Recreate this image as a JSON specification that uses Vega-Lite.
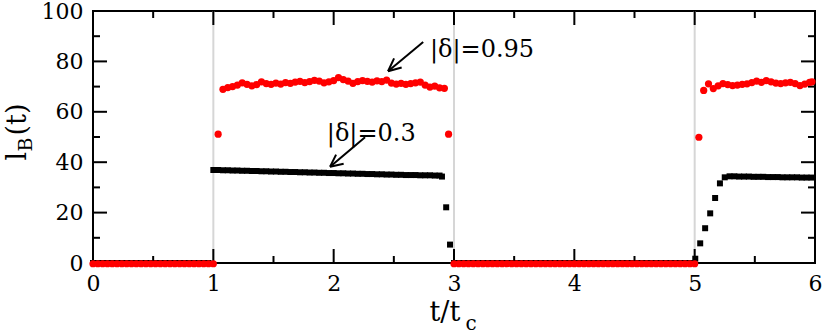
{
"width": 722, "height": 252,
"autosize": "none",
"padding": {"left": 93, "top": 11, "right": 7, "bottom": 70},
"config": {
  "view": {"stroke": "black", "strokeWidth": 2},
  "font": "DejaVu Serif",
  "axis": {"labelFont": "DejaVu Serif", "titleFont": "DejaVu Serif", "labelColor": "black", "titleColor": "black", "labelFontSize": 22, "titleFontWeight": "normal", "domain": false, "grid": false, "ticks": false, "labelFlush": false, "labelOverlap": false}
},
"datasets": {
  "vlines": [{"t":1},{"t":3},{"t":5}],
  "xticks": [{"t":0,"k":"major"},{"t":0.5,"k":"minor"},{"t":1,"k":"major"},{"t":1.5,"k":"minor"},{"t":2,"k":"major"},{"t":2.5,"k":"minor"},{"t":3,"k":"major"},{"t":3.5,"k":"minor"},{"t":4,"k":"major"},{"t":4.5,"k":"minor"},{"t":5,"k":"major"},{"t":5.5,"k":"minor"},{"t":6,"k":"major"}],
  "yticks": [{"v":0,"k":"major"},{"v":10,"k":"minor"},{"v":20,"k":"major"},{"v":30,"k":"minor"},{"v":40,"k":"major"},{"v":50,"k":"minor"},{"v":60,"k":"major"},{"v":70,"k":"minor"},{"v":80,"k":"major"},{"v":90,"k":"minor"},{"v":100,"k":"major"}],
  "black": [
    {"t":0,"v":0},{"t":0.04,"v":0},{"t":0.08,"v":0},{"t":0.12,"v":0},{"t":0.16,"v":0},{"t":0.2,"v":0},{"t":0.24,"v":0},{"t":0.28,"v":0},{"t":0.32,"v":0},{"t":0.36,"v":0},{"t":0.4,"v":0},{"t":0.44,"v":0},{"t":0.48,"v":0},{"t":0.52,"v":0},{"t":0.56,"v":0},{"t":0.6,"v":0},{"t":0.64,"v":0},{"t":0.68,"v":0},{"t":0.72,"v":0},{"t":0.76,"v":0},{"t":0.8,"v":0},{"t":0.84,"v":0},{"t":0.88,"v":0},{"t":0.92,"v":0},{"t":0.96,"v":0},
    {"t":1,"v":36.9},{"t":1.04,"v":36.9},{"t":1.08,"v":36.8},{"t":1.12,"v":36.8},{"t":1.16,"v":36.7},{"t":1.2,"v":36.7},{"t":1.24,"v":36.6},{"t":1.28,"v":36.6},{"t":1.32,"v":36.5},{"t":1.36,"v":36.5},{"t":1.4,"v":36.4},{"t":1.44,"v":36.4},{"t":1.48,"v":36.3},{"t":1.52,"v":36.3},{"t":1.56,"v":36.2},{"t":1.6,"v":36.2},{"t":1.64,"v":36.1},{"t":1.68,"v":36.1},{"t":1.72,"v":36.0},{"t":1.76,"v":36.0},{"t":1.8,"v":35.9},{"t":1.84,"v":35.9},{"t":1.88,"v":35.8},{"t":1.92,"v":35.8},{"t":1.96,"v":35.7},{"t":2,"v":35.7},{"t":2.04,"v":35.6},{"t":2.08,"v":35.6},{"t":2.12,"v":35.5},{"t":2.16,"v":35.5},{"t":2.2,"v":35.4},{"t":2.24,"v":35.4},{"t":2.28,"v":35.3},{"t":2.32,"v":35.3},{"t":2.36,"v":35.2},{"t":2.4,"v":35.2},{"t":2.44,"v":35.1},{"t":2.48,"v":35.1},{"t":2.52,"v":35.0},{"t":2.56,"v":35.0},{"t":2.6,"v":34.9},{"t":2.64,"v":34.9},{"t":2.68,"v":34.9},{"t":2.72,"v":34.8},{"t":2.76,"v":34.8},{"t":2.8,"v":34.8},{"t":2.84,"v":34.7},{"t":2.88,"v":34.7},{"t":2.9,"v":34.3},{"t":2.935,"v":22.1},{"t":2.967,"v":7.3},
    {"t":3,"v":0},{"t":3.04,"v":0},{"t":3.08,"v":0},{"t":3.12,"v":0},{"t":3.16,"v":0},{"t":3.2,"v":0},{"t":3.24,"v":0},{"t":3.28,"v":0},{"t":3.32,"v":0},{"t":3.36,"v":0},{"t":3.4,"v":0},{"t":3.44,"v":0},{"t":3.48,"v":0},{"t":3.52,"v":0},{"t":3.56,"v":0},{"t":3.6,"v":0},{"t":3.64,"v":0},{"t":3.68,"v":0},{"t":3.72,"v":0},{"t":3.76,"v":0},{"t":3.8,"v":0},{"t":3.84,"v":0},{"t":3.88,"v":0},{"t":3.92,"v":0},{"t":3.96,"v":0},{"t":4,"v":0},{"t":4.04,"v":0},{"t":4.08,"v":0},{"t":4.12,"v":0},{"t":4.16,"v":0},{"t":4.2,"v":0},{"t":4.24,"v":0},{"t":4.28,"v":0},{"t":4.32,"v":0},{"t":4.36,"v":0},{"t":4.4,"v":0},{"t":4.44,"v":0},{"t":4.48,"v":0},{"t":4.52,"v":0},{"t":4.56,"v":0},{"t":4.6,"v":0},{"t":4.64,"v":0},{"t":4.68,"v":0},{"t":4.72,"v":0},{"t":4.76,"v":0},{"t":4.8,"v":0},{"t":4.84,"v":0},{"t":4.88,"v":0},{"t":4.92,"v":0},{"t":4.96,"v":0},
    {"t":5.005,"v":1.7},{"t":5.046,"v":7.8},{"t":5.087,"v":13.8},{"t":5.129,"v":19.7},{"t":5.17,"v":25.8},{"t":5.21,"v":31.6},{"t":5.25,"v":34.0},
    {"t":5.29,"v":34.4},{"t":5.33,"v":34.4},{"t":5.37,"v":34.3},{"t":5.41,"v":34.3},{"t":5.45,"v":34.3},{"t":5.49,"v":34.2},{"t":5.53,"v":34.2},{"t":5.57,"v":34.2},{"t":5.61,"v":34.1},{"t":5.65,"v":34.1},{"t":5.69,"v":34.1},{"t":5.73,"v":34.0},{"t":5.77,"v":34.0},{"t":5.81,"v":34.0},{"t":5.85,"v":34.0},{"t":5.89,"v":33.9},{"t":5.93,"v":33.9},{"t":5.97,"v":33.9}
  ],
  "red": [
    {"t":0,"v":-0.3},{"t":0.04,"v":-0.3},{"t":0.08,"v":-0.3},{"t":0.12,"v":-0.3},{"t":0.16,"v":-0.3},{"t":0.2,"v":-0.3},{"t":0.24,"v":-0.3},{"t":0.28,"v":-0.3},{"t":0.32,"v":-0.3},{"t":0.36,"v":-0.3},{"t":0.4,"v":-0.3},{"t":0.44,"v":-0.3},{"t":0.48,"v":-0.3},{"t":0.52,"v":-0.3},{"t":0.56,"v":-0.3},{"t":0.6,"v":-0.3},{"t":0.64,"v":-0.3},{"t":0.68,"v":-0.3},{"t":0.72,"v":-0.3},{"t":0.76,"v":-0.3},{"t":0.8,"v":-0.3},{"t":0.84,"v":-0.3},{"t":0.88,"v":-0.3},{"t":0.92,"v":-0.3},{"t":0.96,"v":-0.3},{"t":1,"v":-0.3},
    {"t":1.04,"v":51.1},
    {"t":1.08,"v":68.9},{"t":1.12,"v":69.6},{"t":1.16,"v":70.0},{"t":1.2,"v":70.6},{"t":1.24,"v":71.5},{"t":1.28,"v":70.9},{"t":1.32,"v":70.3},{"t":1.36,"v":70.8},{"t":1.4,"v":71.9},{"t":1.44,"v":71.2},{"t":1.48,"v":70.9},{"t":1.52,"v":71.4},{"t":1.56,"v":71.0},{"t":1.6,"v":71.6},{"t":1.64,"v":71.3},{"t":1.68,"v":71.8},{"t":1.72,"v":72.1},{"t":1.76,"v":71.6},{"t":1.8,"v":72.0},{"t":1.84,"v":72.5},{"t":1.88,"v":72.2},{"t":1.92,"v":71.5},{"t":1.96,"v":71.9},{"t":2,"v":72.4},{"t":2.04,"v":73.6},{"t":2.08,"v":72.8},{"t":2.12,"v":72.2},{"t":2.16,"v":71.3},{"t":2.2,"v":72.0},{"t":2.24,"v":72.4},{"t":2.28,"v":72.1},{"t":2.32,"v":71.8},{"t":2.36,"v":72.3},{"t":2.4,"v":72.0},{"t":2.44,"v":72.6},{"t":2.48,"v":71.4},{"t":2.52,"v":71.0},{"t":2.56,"v":71.3},{"t":2.6,"v":70.9},{"t":2.64,"v":71.2},{"t":2.68,"v":71.5},{"t":2.72,"v":71.8},{"t":2.76,"v":70.6},{"t":2.8,"v":69.8},{"t":2.84,"v":70.2},{"t":2.88,"v":69.5},{"t":2.92,"v":69.3},
    {"t":2.955,"v":51.1},
    {"t":3,"v":-0.3},{"t":3.04,"v":-0.3},{"t":3.08,"v":-0.3},{"t":3.12,"v":-0.3},{"t":3.16,"v":-0.3},{"t":3.2,"v":-0.3},{"t":3.24,"v":-0.3},{"t":3.28,"v":-0.3},{"t":3.32,"v":-0.3},{"t":3.36,"v":-0.3},{"t":3.4,"v":-0.3},{"t":3.44,"v":-0.3},{"t":3.48,"v":-0.3},{"t":3.52,"v":-0.3},{"t":3.56,"v":-0.3},{"t":3.6,"v":-0.3},{"t":3.64,"v":-0.3},{"t":3.68,"v":-0.3},{"t":3.72,"v":-0.3},{"t":3.76,"v":-0.3},{"t":3.8,"v":-0.3},{"t":3.84,"v":-0.3},{"t":3.88,"v":-0.3},{"t":3.92,"v":-0.3},{"t":3.96,"v":-0.3},{"t":4,"v":-0.3},{"t":4.04,"v":-0.3},{"t":4.08,"v":-0.3},{"t":4.12,"v":-0.3},{"t":4.16,"v":-0.3},{"t":4.2,"v":-0.3},{"t":4.24,"v":-0.3},{"t":4.28,"v":-0.3},{"t":4.32,"v":-0.3},{"t":4.36,"v":-0.3},{"t":4.4,"v":-0.3},{"t":4.44,"v":-0.3},{"t":4.48,"v":-0.3},{"t":4.52,"v":-0.3},{"t":4.56,"v":-0.3},{"t":4.6,"v":-0.3},{"t":4.64,"v":-0.3},{"t":4.68,"v":-0.3},{"t":4.72,"v":-0.3},{"t":4.76,"v":-0.3},{"t":4.8,"v":-0.3},{"t":4.84,"v":-0.3},{"t":4.88,"v":-0.3},{"t":4.92,"v":-0.3},{"t":4.96,"v":-0.3},{"t":5,"v":-0.3},
    {"t":5.035,"v":49.9},{"t":5.075,"v":68.5},
    {"t":5.115,"v":71.1},{"t":5.155,"v":69.2},{"t":5.195,"v":70.3},{"t":5.235,"v":71.2},{"t":5.275,"v":70.8},{"t":5.315,"v":70.4},{"t":5.355,"v":70.6},{"t":5.395,"v":70.9},{"t":5.435,"v":71.1},{"t":5.475,"v":71.6},{"t":5.515,"v":72.2},{"t":5.555,"v":71.7},{"t":5.595,"v":72.4},{"t":5.635,"v":71.9},{"t":5.675,"v":71.4},{"t":5.715,"v":71.2},{"t":5.755,"v":71.5},{"t":5.795,"v":71.7},{"t":5.835,"v":71.2},{"t":5.875,"v":70.4},{"t":5.915,"v":71.0},{"t":5.955,"v":71.7},{"t":5.975,"v":71.9}
  ],
  "arrows": [
    {"t":2.744,"v":87.7,"t2":2.452,"v2":76.1},
    {"t":2.452,"v":76.1,"t2":2.565,"v2":77.6},
    {"t":2.452,"v":76.1,"t2":2.502,"v2":81.2},
    {"t":2.261,"v":49.9,"t2":1.97,"v2":38.2},
    {"t":1.97,"v":38.2,"t2":2.083,"v2":39.4},
    {"t":1.97,"v":38.2,"t2":2.02,"v2":43.0}
  ],
  "labels": [
    {"t":2.8,"v":81.6,"label":"|δ|=0.95"},
    {"t":1.943,"v":48.6,"label":"|δ|=0.3"}
  ]
},
"resolve": {"axis": {"x": "independent", "y": "independent"}},
"layer": [
  {
    "data": {"name": "vlines"},
    "mark": {"type": "rule", "color": "#d6d6d6", "strokeWidth": 2},
    "encoding": {
      "x": {"field": "t", "type": "quantitative", "scale": {"domain": [0, 6], "nice": false, "zero": false},
        "axis": {"orient": "bottom", "values": [0,1,2,3,4,5,6], "labelPadding": 10, "title": null}},
      "y": {"datum": 0, "type": "quantitative", "scale": {"domain": [0, 100], "nice": false, "zero": false},
        "axis": {"orient": "left", "labels": false, "title": "B", "titleFontSize": 19, "titleAngle": 270, "titleAlign": "left", "titleBaseline": "alphabetic", "titleX": -62, "titleY": 140}},
      "y2": {"datum": 100}
    }
  },
  {
    "data": {"name": "xticks"},
    "transform": [{"filter": "datum.k == 'major'"}],
    "mark": {"type": "rule", "color": "black", "strokeWidth": 2},
    "encoding": {
      "x": {"field": "t", "type": "quantitative", "scale": {"domain": [0, 6], "nice": false, "zero": false}, "axis": null},
      "y": {"datum": 0, "type": "quantitative", "scale": {"domain": [0, 100], "nice": false, "zero": false}, "axis": null},
      "y2": {"datum": 5.556}
    }
  },
  {
    "data": {"name": "xticks"},
    "transform": [{"filter": "datum.k == 'minor'"}],
    "mark": {"type": "rule", "color": "black", "strokeWidth": 2},
    "encoding": {
      "x": {"field": "t", "type": "quantitative", "scale": {"domain": [0, 6], "nice": false, "zero": false}, "axis": null},
      "y": {"datum": 0, "type": "quantitative", "scale": {"domain": [0, 100], "nice": false, "zero": false}, "axis": null},
      "y2": {"datum": 2.778}
    }
  },
  {
    "data": {"name": "xticks"},
    "transform": [{"filter": "datum.k == 'major'"}],
    "mark": {"type": "rule", "color": "black", "strokeWidth": 2},
    "encoding": {
      "x": {"field": "t", "type": "quantitative", "scale": {"domain": [0, 6], "nice": false, "zero": false}, "axis": null},
      "y": {"datum": 100, "type": "quantitative", "scale": {"domain": [0, 100], "nice": false, "zero": false}, "axis": null},
      "y2": {"datum": 94.444}
    }
  },
  {
    "data": {"name": "xticks"},
    "transform": [{"filter": "datum.k == 'minor'"}],
    "mark": {"type": "rule", "color": "black", "strokeWidth": 2},
    "encoding": {
      "x": {"field": "t", "type": "quantitative", "scale": {"domain": [0, 6], "nice": false, "zero": false}, "axis": null},
      "y": {"datum": 100, "type": "quantitative", "scale": {"domain": [0, 100], "nice": false, "zero": false}, "axis": null},
      "y2": {"datum": 97.222}
    }
  },
  {
    "data": {"name": "yticks"},
    "transform": [{"filter": "datum.k == 'major'"}],
    "mark": {"type": "rule", "color": "black", "strokeWidth": 2},
    "encoding": {
      "y": {"field": "v", "type": "quantitative", "scale": {"domain": [0, 100], "nice": false, "zero": false}, "axis": null},
      "x": {"datum": 0, "type": "quantitative", "scale": {"domain": [0, 6], "nice": false, "zero": false}, "axis": null},
      "x2": {"datum": 0.1163}
    }
  },
  {
    "data": {"name": "yticks"},
    "transform": [{"filter": "datum.k == 'minor'"}],
    "mark": {"type": "rule", "color": "black", "strokeWidth": 2},
    "encoding": {
      "y": {"field": "v", "type": "quantitative", "scale": {"domain": [0, 100], "nice": false, "zero": false}, "axis": null},
      "x": {"datum": 0, "type": "quantitative", "scale": {"domain": [0, 6], "nice": false, "zero": false}, "axis": null},
      "x2": {"datum": 0.0582}
    }
  },
  {
    "data": {"name": "yticks"},
    "transform": [{"filter": "datum.k == 'major'"}],
    "mark": {"type": "rule", "color": "black", "strokeWidth": 2},
    "encoding": {
      "y": {"field": "v", "type": "quantitative", "scale": {"domain": [0, 100], "nice": false, "zero": false}, "axis": null},
      "x": {"datum": 6, "type": "quantitative", "scale": {"domain": [0, 6], "nice": false, "zero": false}, "axis": null},
      "x2": {"datum": 5.8837}
    }
  },
  {
    "data": {"name": "yticks"},
    "transform": [{"filter": "datum.k == 'minor'"}],
    "mark": {"type": "rule", "color": "black", "strokeWidth": 2},
    "encoding": {
      "y": {"field": "v", "type": "quantitative", "scale": {"domain": [0, 100], "nice": false, "zero": false}, "axis": null},
      "x": {"datum": 6, "type": "quantitative", "scale": {"domain": [0, 6], "nice": false, "zero": false}, "axis": null},
      "x2": {"datum": 5.9418}
    }
  },
  {
    "data": {"name": "black"},
    "mark": {"type": "square", "size": 36, "color": "black", "opacity": 1},
    "encoding": {
      "x": {"field": "t", "type": "quantitative", "scale": {"domain": [0, 6], "nice": false, "zero": false}, "axis": null},
      "y": {"field": "v", "type": "quantitative", "scale": {"domain": [0, 100], "nice": false, "zero": false},
        "axis": {"orient": "left", "values": [0,20,40,60,80,100], "labelPadding": 10, "title": null}}
    }
  },
  {
    "data": {"name": "red"},
    "mark": {"type": "circle", "size": 52, "color": "#ff0000", "opacity": 1},
    "encoding": {
      "x": {"field": "t", "type": "quantitative", "scale": {"domain": [0, 6], "nice": false, "zero": false}, "axis": null},
      "y": {"field": "v", "type": "quantitative", "scale": {"domain": [0, 100], "nice": false, "zero": false}, "axis": null}
    }
  },
  {
    "data": {"name": "arrows"},
    "mark": {"type": "rule", "color": "black", "strokeWidth": 2},
    "encoding": {
      "x": {"field": "t", "type": "quantitative", "scale": {"domain": [0, 6], "nice": false, "zero": false}, "axis": null},
      "x2": {"field": "t2"},
      "y": {"field": "v", "type": "quantitative", "scale": {"domain": [0, 100], "nice": false, "zero": false}, "axis": null},
      "y2": {"field": "v2"}
    }
  },
  {
    "data": {"name": "labels"},
    "mark": {"type": "text", "align": "left", "baseline": "alphabetic", "font": "DejaVu Serif", "fontSize": 24, "color": "black"},
    "encoding": {
      "x": {"field": "t", "type": "quantitative", "scale": {"domain": [0, 6], "nice": false, "zero": false},
        "axis": {"orient": "bottom", "labels": false, "title": "c", "titleFontSize": 20, "titleAlign": "left", "titleBaseline": "alphabetic", "titleX": 372, "titleY": 66}},
      "y": {"field": "v", "type": "quantitative", "scale": {"domain": [0, 100], "nice": false, "zero": false}, "axis": null},
      "text": {"field": "label"}
    }
  },
  {
    "data": {"name": "vlines"},
    "mark": {"type": "rule", "opacity": 0},
    "encoding": {
      "x": {"field": "t", "type": "quantitative", "scale": {"domain": [0, 6], "nice": false, "zero": false},
        "axis": {"orient": "bottom", "labels": false, "title": "t/t", "titleFontSize": 27, "titleAlign": "left", "titleBaseline": "alphabetic", "titleX": 336, "titleY": 57}},
      "y": {"datum": 0, "type": "quantitative", "scale": {"domain": [0, 100], "nice": false, "zero": false},
        "axis": {"orient": "left", "labels": false, "title": "(t)", "titleFontSize": 27, "titleAngle": 270, "titleAlign": "left", "titleBaseline": "alphabetic", "titleX": -68, "titleY": 124}}
    }
  },
  {
    "data": {"name": "vlines"},
    "mark": {"type": "rule", "opacity": 0},
    "encoding": {
      "x": {"field": "t", "type": "quantitative", "scale": {"domain": [0, 6], "nice": false, "zero": false}, "axis": null},
      "y": {"datum": 0, "type": "quantitative", "scale": {"domain": [0, 100], "nice": false, "zero": false},
        "axis": {"orient": "left", "labels": false, "title": "l", "titleFontSize": 27, "titleAngle": 270, "titleAlign": "left", "titleBaseline": "alphabetic", "titleX": -68, "titleY": 149}}
    }
  }
]
}
